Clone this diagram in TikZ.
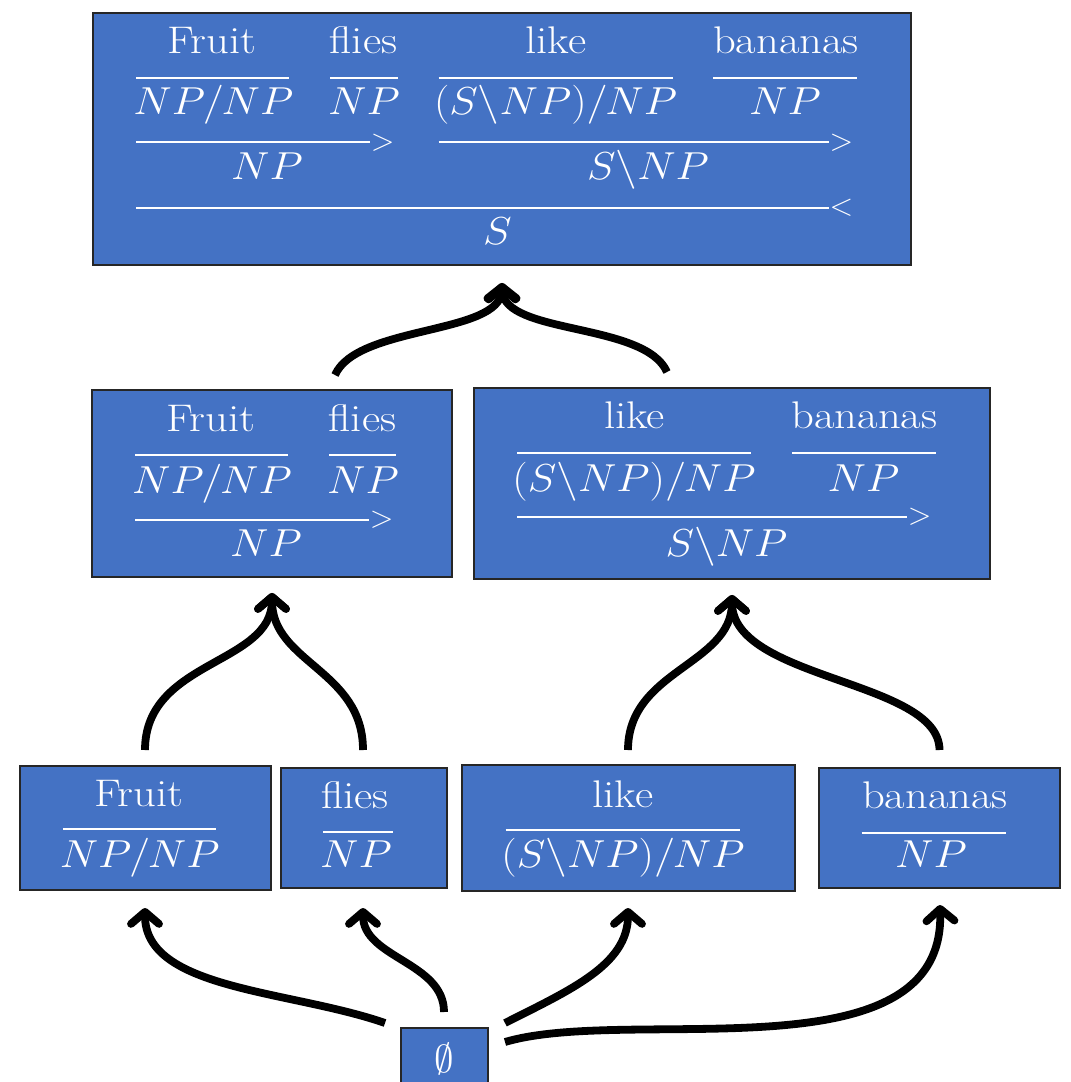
\RequirePackage{fix-cm}
\documentclass[tikz,border=0pt]{standalone}
\usepackage{graphicx}
\usetikzlibrary{arrows.meta}

\definecolor{boxblue}{HTML}{4472C4}
\newcommand\wfont{\fontsize{38.5}{40}\selectfont}
\newcommand\cfont{\fontsize{39}{40}\selectfont}
\newcommand\sfont{\fontsize{31}{32}\selectfont}
% words and categories use the wide small-design letter shapes
\newcommand\wrd[1]{\scalebox{1.16}[1]{#1}}
\newcommand\ccg[1]{\scalebox{1.11}[1]{$#1$}}

\tikzset{
  box/.style={draw=black!85, line width=1.3pt, fill=boxblue, inner sep=0pt, outer sep=0pt},
  word/.style={text=white, anchor=base, inner sep=0pt, font=\wfont},
  cat/.style={text=white, anchor=base, inner sep=0pt, font=\cfont},
  comb/.style={text=white, anchor=west, inner sep=0pt, font=\sfont},
  rulebar/.style={draw=white, line width=1.8pt},
  arr/.style={line width=7.8pt, -{Straight Barb[length=12pt,width=28pt,round]}},
}

\begin{document}
\begin{tikzpicture}[x=1pt,y=-1pt]
\useasboundingbox (0,0) rectangle (1071,1082);

% ---------- full derivation ----------
\node[box, minimum width=818pt, minimum height=252pt] (top) at (502,139) {};
\node[word] (tw1) at (212,53.7) {\wrd{Fruit}};
\node[word] (tw2) at (363.4,53.7) {\wrd{flies}};
\node[word] (tw3) at (555.8,53.7) {\wrd{like}};
\node[word] (tw4) at (786,53.7) {\wrd{bananas}};
\draw[rulebar] (136,78) -- (289,78);
\draw[rulebar] (330,78) -- (398,78);
\draw[rulebar] (438.5,78) -- (672.6,78);
\draw[rulebar] (713.4,78) -- (857,78);
\node[cat] (tc1) at (213.4,114.7) {\ccg{NP/NP}};
\node[cat] (tc2) at (364,114.7) {\ccg{NP}};
\node[cat] (tc3) at (555.6,114.7) {\ccg{(S\backslash NP)/NP}};
\node[cat] (tc4) at (785,114.7) {\ccg{NP}};
\draw[rulebar] (136,142.3) -- (370,142.3) node[comb] (tk1) {$>$};
\draw[rulebar] (438.5,142.3) -- (828.6,142.3) node[comb] (tk2) {$>$};
\node[cat] (tc5) at (267,179.7) {\ccg{NP}};
\node[cat] (tc6) at (648,179.7) {\ccg{S\backslash NP}};
\draw[rulebar] (136,208) -- (828.6,208) node[comb] (tk3) {$<$};
\node[cat] (tc7) at (497.5,244.7) {\ccg{S}};

% ---------- Fruit flies ----------
\node[box, minimum width=360pt, minimum height=187pt] (ml) at (272,483.5) {};
\node[word] (lw1) at (211,431) {\wrd{Fruit}};
\node[word] (lw2) at (362.5,431) {\wrd{flies}};
\draw[rulebar] (135,455) -- (288,455);
\draw[rulebar] (329,455) -- (396,455);
\node[cat] (lc1) at (212,493) {\ccg{NP/NP}};
\node[cat] (lc2) at (363,493) {\ccg{NP}};
\draw[rulebar] (135,520) -- (369,520) node[comb] (lk1) {$>$};
\node[cat] (lc3) at (266,556) {\ccg{NP}};

% ---------- like bananas ----------
\node[box, minimum width=516pt, minimum height=191pt] (mr) at (732,483.5) {};
\node[word] (rw1) at (634.5,428) {\wrd{like}};
\node[word] (rw2) at (864.5,428) {\wrd{bananas}};
\draw[rulebar] (517,452.7) -- (751,452.7);
\draw[rulebar] (792,452.7) -- (936,452.7);
\node[cat] (rc1) at (634,491) {\ccg{(S\backslash NP)/NP}};
\node[cat] (rc2) at (863.5,491) {\ccg{NP}};
\draw[rulebar] (517,517) -- (907,517) node[comb] (rk1) {$>$};
\node[cat] (rc3) at (726.5,556) {\ccg{S\backslash NP}};

% ---------- lexical entries ----------
\node[box, minimum width=251pt, minimum height=124pt] (fruitB) at (145.5,828) {};
\node[word] (bw1) at (138.7,806.7) {\wrd{Fruit}};
\draw[rulebar] (63,829) -- (216,829);
\node[cat] (bc1) at (139.7,867) {\ccg{NP/NP}};

\node[box, minimum width=166pt, minimum height=120pt] (fliesB) at (364,828) {};
\node[word] (bw2) at (355,808) {\wrd{flies}};
\draw[rulebar] (323,832) -- (393,832);
\node[cat] (bc2) at (356,867) {\ccg{NP}};

\node[box, minimum width=333pt, minimum height=126pt] (likeB) at (628.5,828) {};
\node[word] (bw3) at (623,807) {\wrd{like}};
\draw[rulebar] (505.6,830) -- (740,830);
\node[cat] (bc3) at (623,867) {\ccg{(S\backslash NP)/NP}};

\node[box, minimum width=241pt, minimum height=120pt] (banB) at (939.5,828) {};
\node[word] (bw4) at (935,808) {\wrd{bananas}};
\draw[rulebar] (861.6,832.7) -- (1005.6,832.7);
\node[cat] (bc4) at (931,867) {\ccg{NP}};

% ---------- empty start ----------
\node[box, minimum width=87pt, minimum height=70pt] (empty) at (444.5,1063) {};
\node[cat] (e0) at (444,1072) {$\emptyset$};

% ---------- connector ends ----------
\coordinate (topIn) at ([yshift=-18pt]top.south);
\coordinate (mlOut) at ([xshift=63pt,yshift=15pt]ml.north);
\coordinate (mrOut) at ([xshift=-65pt,yshift=16pt]mr.north);
\coordinate (mlIn) at ([yshift=-16pt]ml.south);
\coordinate (mrIn) at ([yshift=-16pt]mr.south);
\coordinate (fruitOut) at ([xshift=-0.5pt,yshift=16pt]fruitB.north);
\coordinate (fliesOut) at ([xshift=-1pt,yshift=18pt]fliesB.north);
\coordinate (likeOut) at ([xshift=-0.5pt,yshift=15pt]likeB.north);
\coordinate (banOut) at ([yshift=18pt]banB.north);
\coordinate (fruitIn) at ([xshift=-0.5pt,yshift=-18pt]fruitB.south);
\coordinate (fliesIn) at ([xshift=-1pt,yshift=-20pt]fliesB.south);
\coordinate (likeIn) at ([xshift=-0.5pt,yshift=-17pt]likeB.south);
\coordinate (banIn) at ([xshift=0.5pt,yshift=-17pt]banB.south);
\coordinate (eFruit) at ([xshift=-16pt,yshift=5pt]empty.north west);
\coordinate (eFlies) at ([xshift=-0.5pt,yshift=16pt]empty.north);
\coordinate (eLike) at ([xshift=17pt,yshift=5pt]empty.north east);
\coordinate (eBan) at ([xshift=17pt,yshift=-14pt]empty.north east);

% ---------- connectors ----------
\draw[arr] (mlOut) .. controls +(22,-50) and +(-2,52) .. (topIn);
\draw[arr] (mrOut) .. controls +(-22,-50) and +(2,52) .. (topIn);

\draw[arr] (fruitOut) .. controls +(0,-90) and +(0,72) .. (mlIn);
\draw[arr] (fliesOut) .. controls +(0,-80) and +(0,70) .. (mlIn);
\draw[arr] (likeOut) .. controls +(0,-80) and +(0,70) .. (mrIn);
\draw[arr] (banOut) .. controls +(0,-70) and +(0,85) .. (mrIn);

\draw[arr] (eFruit) .. controls +(-95,-33) and +(0,82) .. (fruitIn);
\draw[arr] (eFlies) .. controls +(0,-50) and +(0,50) .. (fliesIn);
\draw[arr] (eLike) .. controls +(65,-33) and +(0,57) .. (likeIn);
\draw[arr] (eBan) .. controls +(125,-37) and +(5,175) .. (banIn);
\end{tikzpicture}
\end{document}
